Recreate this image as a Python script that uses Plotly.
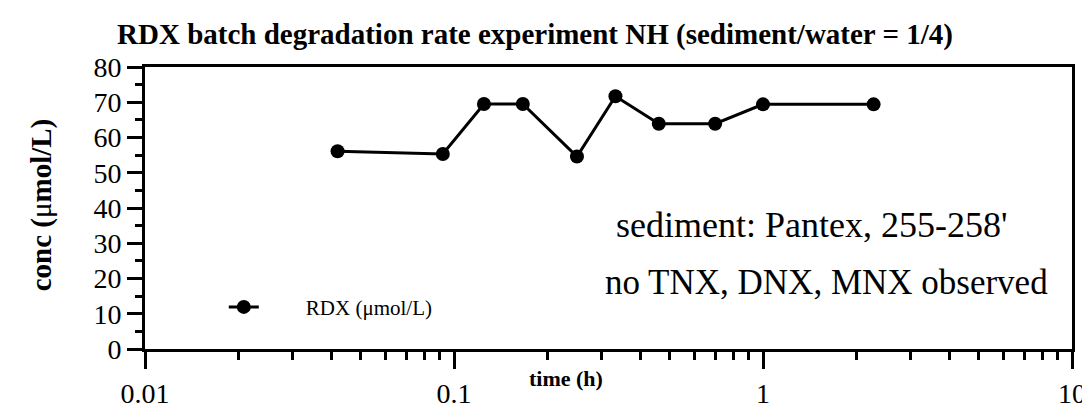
import plotly.graph_objects as go

time_h = [0.042, 0.092, 0.125, 0.167, 0.25, 0.333, 0.46, 0.70, 1.0, 2.28]
rdx_umol = [56.1, 55.3, 69.5, 69.5, 54.6, 71.7, 63.9, 63.9, 69.4, 69.4]

x_tickvals = [0.01, 0.1, 1, 10]
x_ticktext = ["0.01", "0.1", "1", "10"]
x_minor = [m * 10 ** e for e in (-2, -1, 0) for m in range(2, 10)]

SERIF = "Liberation Serif, Times New Roman, serif"

fig = go.Figure()
fig.add_trace(go.Scatter(
    x=time_h, y=rdx_umol, mode="lines+markers",
    name="\u00a0\u00a0\u00a0\u00a0\u00a0\u00a0\u00a0\u00a0RDX (μmol/L)",
    line=dict(color="black", width=3),
    marker=dict(color="black", size=14),
))

fig.update_layout(
    width=1090, height=413,
    margin=dict(l=137, r=17, t=59, b=53),
    paper_bgcolor="white", plot_bgcolor="white",
    font=dict(family=SERIF, color="black", size=28),
    title=dict(text="<b>RDX batch degradation rate experiment NH (sediment/water = 1/4)</b>",
               x=0.4835, xref="container", xanchor="center",
               y=1 - 26 / 413, yref="container", yanchor="middle",
               font=dict(family=SERIF, size=29, color="black")),
    showlegend=True,
    legend=dict(x=0.085, y=0.148, xanchor="left", yanchor="middle",
                bgcolor="rgba(0,0,0,0)", font=dict(family=SERIF, size=21),
                itemwidth=30),
    xaxis=dict(type="log", range=[-2, 1], tickmode="array",
               tickvals=x_tickvals, ticktext=x_ticktext,
               ticks="outside", ticklen=17, tickwidth=3, tickcolor="black",
               showline=True, linewidth=3, linecolor="black", mirror=True,
               showgrid=False, zeroline=False,
               tickfont=dict(family=SERIF, size=28),
               minor=dict(tickmode="array", tickvals=x_minor, ticks="outside",
                          ticklen=8, tickwidth=3, tickcolor="black", showgrid=False)),
    yaxis=dict(range=[0, 80], dtick=10, tick0=0,
               ticks="outside", ticklen=15, tickwidth=3, tickcolor="black",
               showline=True, linewidth=3, linecolor="black", mirror=True,
               showgrid=False, zeroline=False,
               tickfont=dict(family=SERIF, size=28),
               minor=dict(dtick=5, ticks="outside", ticklen=7, tickwidth=3,
                          tickcolor="black", showgrid=False)),
)

fig.add_annotation(text="sediment: Pantex, 255-258'", xref="paper", yref="paper",
                   x=(810 - 137.5) / 935.5, y=0.44, xanchor="center", yanchor="middle",
                   showarrow=False, font=dict(family=SERIF, size=36))
fig.add_annotation(text="no TNX, DNX, MNX observed", xref="paper", yref="paper",
                   x=(825 - 137.5) / 935.5, y=0.235, xanchor="center", yanchor="middle",
                   showarrow=False, font=dict(family=SERIF, size=35))
fig.add_annotation(text="<b>time (h)</b>", xref="paper", yref="paper",
                   x=(562 - 137.5) / 935.5, y=-0.105, xanchor="center", yanchor="middle",
                   showarrow=False, font=dict(family=SERIF, size=22))
fig.add_annotation(text="<b>conc (</b>μ<b>mol/L)</b>", xref="paper", yref="paper",
                   x=(33 - 137.5) / 935.5, y=0.511, xanchor="center", yanchor="middle",
                   textangle=-90, showarrow=False, font=dict(family=SERIF, size=29))

fig.write_html("out.html")
